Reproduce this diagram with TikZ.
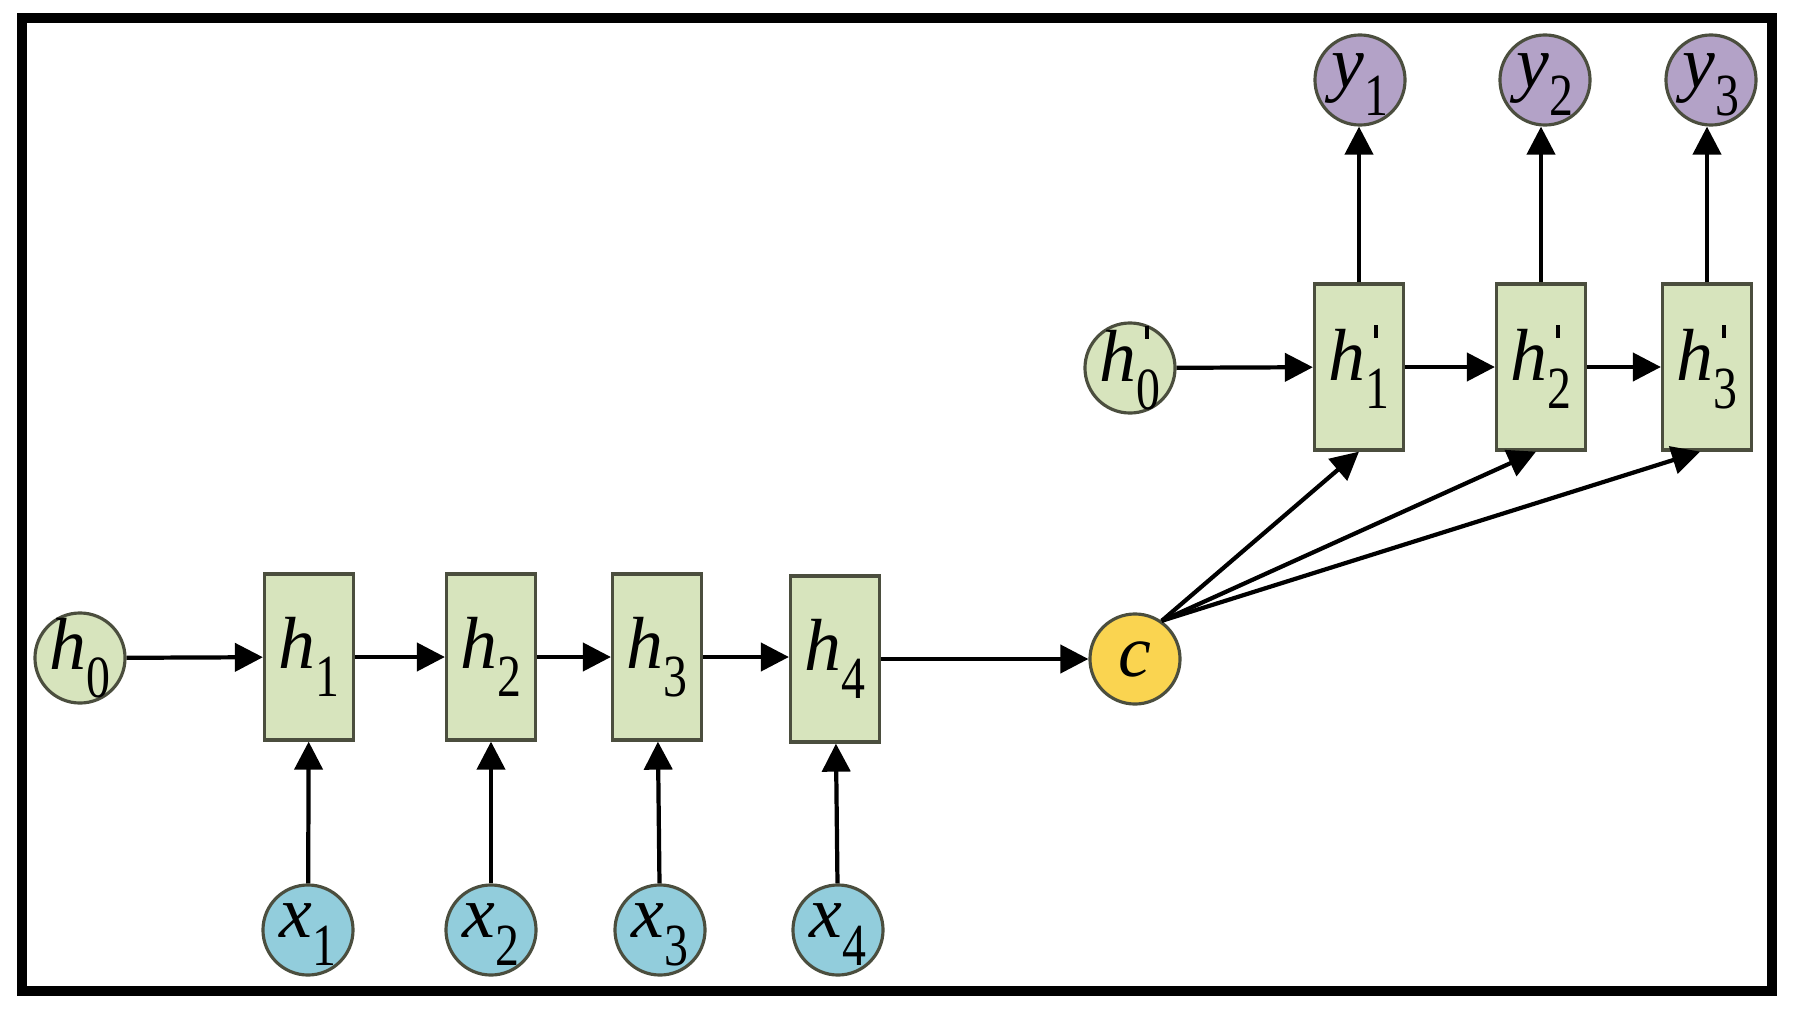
\documentclass[tikz,border=0pt]{standalone}
\usepackage{fontspec}
\setmainfont{Liberation Serif}
\usetikzlibrary{arrows.meta}
\definecolor{cellgreen}{RGB}{215,228,189}
\definecolor{inblue}{RGB}{146,205,220}
\definecolor{outpurple}{RGB}{179,162,199}
\definecolor{ctxyellow}{RGB}{250,212,80}
\definecolor{rim}{RGB}{75,78,62}
% letter, subscript, mark above the subscript
\newcommand{\seqlab}[3]{\textit{#1}\makebox[0pt][l]{\hspace{0.12em}\raisebox{0.58em}{#3}}\raisebox{-0.38em}{\scalebox{0.8}[1]{\fontsize{17}{17}\selectfont #2}}}
\newcommand{\primetick}{\rule{0.05em}{0.17em}}

\begin{document}
\begin{tikzpicture}[x=0.01cm,y=-0.01cm,font=\fontsize{21}{25}\selectfont,
		cell/.style={draw=rim, line width=0.9pt, fill=cellgreen, minimum width=0.89cm, minimum height=1.66cm, inner sep=0pt},
		unit/.style={draw=rim, line width=0.9pt, circle, minimum size=0.9cm, inner sep=-2mm},
		arr/.style={-{Triangle[length=2.8mm,width=2.8mm]}, line width=1.2pt}]
			\useasboundingbox (0,0) rectangle (1796,1012);
			\draw[line width=2.8pt] (22,18) rectangle (1772,991);
			% encoder
			\node[unit, fill=cellgreen] (h0) at (80,658){\seqlab{h}{0}{}};
			\node[cell] (h1) at (309,657){\seqlab{h}{1}{}};
			\node[cell] (h2) at (491,657){\seqlab{h}{2}{}};
			\node[cell] (h3) at (657,657){\seqlab{h}{3}{}};
			\node[cell] (h4) at (835,659){\seqlab{h}{4}{}};
			\node[unit, fill=inblue] (x1) at (308,930){\seqlab{x}{1}{}};
			\node[unit, fill=inblue] (x2) at (491,930){\seqlab{x}{2}{}};
			\node[unit, fill=inblue] (x3) at (660,930){\seqlab{x}{3}{}};
			\node[unit, fill=inblue] (x4) at (838,930){\seqlab{x}{4}{}};
			\node[unit, fill=ctxyellow] (c) at (1135,659){\textit{c}};
			% decoder
			\node[unit, fill=cellgreen] (g0) at (1130,368){\seqlab{h}{0}{\primetick}};
			\node[cell] (g1) at (1359,367){\seqlab{h}{1}{\primetick}};
			\node[cell] (g2) at (1541,367){\seqlab{h}{2}{\primetick}};
			\node[cell] (g3) at (1707,367){\seqlab{h}{3}{\primetick}};
			\node[unit, fill=outpurple] (y1) at (1360,80){\seqlab{y}{1}{}};
			\node[unit, fill=outpurple] (y2) at (1545,80){\seqlab{y}{2}{}};
			\node[unit, fill=outpurple] (y3) at (1711,80){\seqlab{y}{3}{}};
			\draw[arr] (h0) -- (h1);
			\draw[arr] (h1) -- (h2);
			\draw[arr] (h2) -- (h3);
			\draw[arr] (h3) -- (h4.west |- h3);
			\draw[arr] (h4) -- (c);
			\draw[arr] (x1) -- (h1);
			\draw[arr] (x2) -- (h2);
			\draw[arr] (x3) -- (h3);
			\draw[arr] (x4) -- (h4);
			\draw[arr] (g0) -- (g1);
			\draw[arr] (g1) -- (g2);
			\draw[arr] (g2) -- (g3);
			\draw[arr] (g1) -- (g1 |- y1.south);
			\draw[arr] (g2) -- (g2 |- y2.south);
			\draw[arr] (g3) -- (g3 |- y3.south);
			\draw[arr] (c.55) -- (g1.south);
			\draw[arr] (c.55) -- ([xshift=-0.05cm]g2.south);
			\draw[arr] (c.55) -- ([xshift=-0.07cm]g3.south);
		\end{tikzpicture}
\end{document}
